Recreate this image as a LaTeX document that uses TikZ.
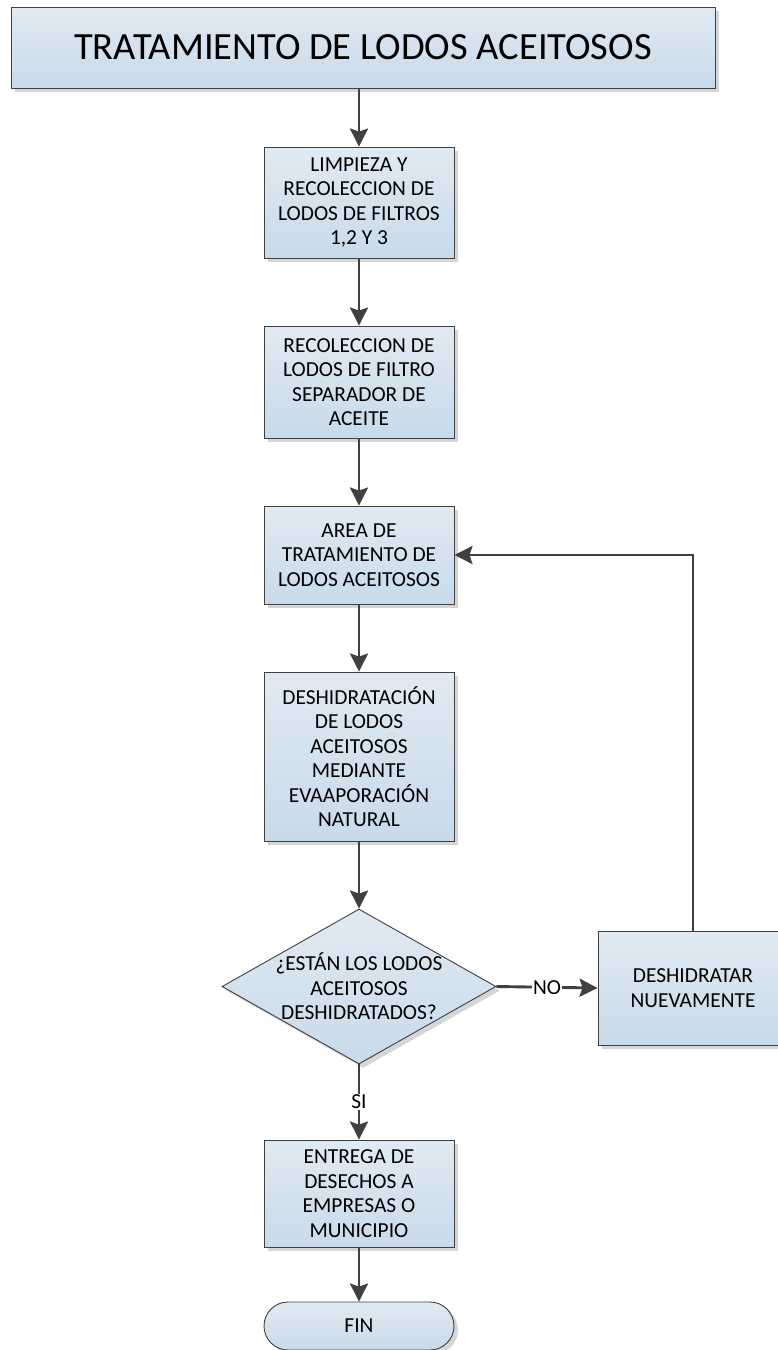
\documentclass[tikz,border=0pt]{standalone}
\usepackage{fontspec}
\setmainfont{Carlito}
\usetikzlibrary{arrows.meta,shapes.geometric,shadows}
\definecolor{ftop}{HTML}{E0EAF3}
\definecolor{fbot}{HTML}{C8DAEA}
\definecolor{fline}{HTML}{404040}
\definecolor{fshadow}{HTML}{D6D6D6}

\begin{document}
\begin{tikzpicture}[x=1pt,y=-1pt,
  stepbox/.style={draw=fline, line width=0.9pt, top color=ftop, bottom color=fbot,
    drop shadow={shadow xshift=4pt, shadow yshift=-4pt, fill=fshadow, opacity=1},
    minimum width=190pt, inner sep=0pt, align=center,
    font=\fontsize{21.4}{24.5}\selectfont},
  decision/.style={stepbox, shape=diamond, minimum width=274pt, minimum height=155pt},
  endbox/.style={stepbox, rounded corners=24pt, minimum height=48pt},
  flowtext/.style={align=center, font=\fontsize{21.4}{24.5}\selectfont},
  flow/.style={draw=fline, line width=2.9pt,
    -{Stealth[length=18pt, width=18pt, inset=3pt]}},
  lbl/.style={fill=white, inner sep=1pt, font=\fontsize{21.4}{24}\selectfont}]
  \useasboundingbox (0,0) rectangle (777,1350);

  % Title
  \node[stepbox, minimum width=704pt, minimum height=81pt,
    font=\fontsize{38.5}{44}\selectfont] (title) at (363,47.5)
    {TRATAMIENTO DE LODOS ACEITOSOS};

  % Main column of steps
  \node[stepbox, minimum height=111pt] (limpieza) at (359,202.5)
    {LIMPIEZA Y\\RECOLECCION DE\\LODOS DE FILTROS\\1,2 Y 3};
  \node[stepbox, minimum height=112pt] (recoleccion) at (359,382)
    {RECOLECCION DE\\LODOS DE FILTRO\\SEPARADOR DE\\ACEITE};
  \node[stepbox, minimum height=98pt] (area) at (359,555)
    {AREA DE\\TRATAMIENTO DE\\LODOS ACEITOSOS};
  \node[stepbox, minimum height=169pt] (deshidratacion) at (359,756.5)
    {DESHIDRATACIÓN\\DE LODOS\\ACEITOSOS\\MEDIANTE\\EVAAPORACIÓN\\NATURAL};

  % Decision and the loop back
  \node[decision] (check) at (359,986.5) {};
  \node[flowtext] (checktxt) at (check.center)
    {¿ESTÁN LOS LODOS\\ACEITOSOS\\DESHIDRATADOS?};
  \node[stepbox, minimum height=114pt] (redo) at (693,988)
    {DESHIDRATAR\\NUEVAMENTE};

  \node[stepbox, minimum height=107pt] (entrega) at (359,1193.5)
    {ENTREGA DE\\DESECHOS A\\EMPRESAS O\\MUNICIPIO};
  \node[endbox] (fin) at (359,1326) {FIN};

  % Connectors
  \draw[flow] (title.south -| limpieza.north) -- (limpieza.north);
  \draw[flow] (limpieza) -- (recoleccion);
  \draw[flow] (recoleccion) -- (area);
  \draw[flow] (area) -- (deshidratacion);
  \draw[flow] (deshidratacion) -- (check.north);
  \draw[flow] (check.east) -- node[lbl] (no) {NO} (redo.west);
  \draw[flow] (redo.north) |- (area.east);
  \draw[flow] (check.south) -- node[lbl] (si) {SI} (entrega.north);
  \draw[flow] (entrega) -- (fin);

\end{tikzpicture}
\end{document}
